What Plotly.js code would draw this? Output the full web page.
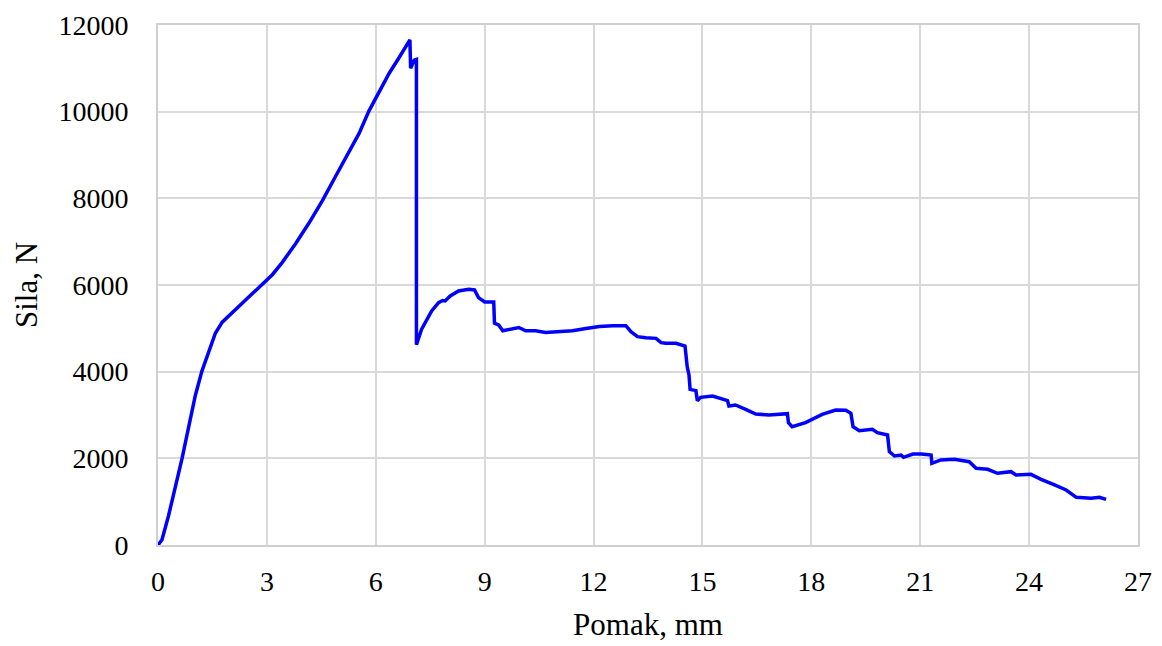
<!DOCTYPE html>
<html>
<head>
<meta charset="utf-8">
<script src="https://cdn.plot.ly/plotly-3.0.1.min.js"></script>
<style>html,body{margin:0;padding:0;background:#fff;}#chart{width:1162px;height:646px;}</style>
</head>
<body>
<div id="chart"></div>
<script>
// Displacement (mm)
const pomak = [0, 0.11, 0.29, 0.48, 0.66, 0.85, 1.03, 1.21, 1.40, 1.58, 1.77, 1.95, 2.32, 2.59, 2.87, 3.15, 3.42, 3.79, 4.16, 4.53, 4.89, 5.26, 5.54, 5.81, 6.09, 6.37, 6.64, 6.92, 6.94, 6.96, 7.06, 7.12, 7.12,
  7.26, 7.54, 7.73, 7.84, 7.91, 8.05, 8.28, 8.56, 8.72, 8.83, 9.0, 9.25, 9.27, 9.39, 9.50, 9.76, 9.94, 10.13, 10.40, 10.68, 11.05, 11.42, 11.79, 12.16, 12.53, 12.89,
  13.03, 13.21, 13.44, 13.72, 13.86, 13.99, 14.27, 14.52, 14.58, 14.63, 14.66, 14.82, 14.86, 14.95, 15.28, 15.46, 15.69, 15.73, 15.91, 16.19, 16.47, 16.83, 17.34,
  17.37, 17.47, 17.84, 18.03, 18.30, 18.67, 18.95, 19.09, 19.15, 19.32, 19.68, 19.82, 20.10, 20.15, 20.29, 20.47, 20.54, 20.80, 21.03, 21.30, 21.32, 21.57, 21.94,
  22.35, 22.54, 22.86, 23.13, 23.50, 23.64, 24.05, 24.33, 24.70, 25.02, 25.30, 25.71, 25.94, 26.12];
// Force (N)
const sila = [0, 120, 675, 1311, 1987, 2742, 3457, 4013, 4490, 4887, 5142, 5285, 5563, 5801, 6000, 6238, 6517, 6954, 7430, 7947, 8503, 9060, 9497, 10013, 10450, 10887, 11245, 11642, 11658, 11000, 11190, 11205, 4620,
  4975, 5400, 5594, 5642, 5632, 5747, 5862, 5900, 5885, 5709, 5609, 5609, 5119, 5073, 4943, 4981, 5019, 4943, 4943, 4904, 4920, 4943, 4996, 5042, 5057, 5060,
  4923, 4808, 4785, 4769, 4669, 4654, 4654, 4592, 4115, 3923, 3592, 3562, 3331, 3408, 3438, 3385, 3331, 3208, 3231, 3131, 3023, 3000, 3030,
  2823, 2731, 2823, 2900, 3015, 3115, 3110, 3038, 2731, 2638, 2669, 2592, 2538, 2154, 2054, 2077, 2023, 2100, 2100, 2077, 1885, 1962, 1977,
  1923, 1769, 1746, 1654, 1692, 1615, 1631, 1515, 1385, 1269, 1100, 1077, 1100, 1054];

const xTicks = [0, 3, 6, 9, 12, 15, 18, 21, 24, 27];
const yTicks = [0, 2000, 4000, 6000, 8000, 10000, 12000];

const fontFam = '"Liberation Serif", "Times New Roman", serif';

Plotly.newPlot('chart', [{
  x: pomak, y: sila, type: 'scatter', mode: 'lines',
  line: {color: '#0000ff', width: 3.5}, hoverinfo: 'skip'
}], {
  width: 1162, height: 646,
  margin: {l: 158, r: 24, t: 25, b: 101},
  paper_bgcolor: '#ffffff', plot_bgcolor: '#ffffff',
  showlegend: false,
  font: {family: fontFam, color: '#000000', size: 28},
  xaxis: {
    range: [0, 27], tickvals: xTicks, ticktext: xTicks.map(String),
    showgrid: true, gridcolor: '#d9d9d9', gridwidth: 2,
    showline: true, linecolor: '#d0d0d0', linewidth: 2, mirror: true,
    zeroline: false, ticks: '', ticklabelstandoff: 10,
    tickfont: {family: fontFam, size: 28, color: '#000'},
    title: {text: 'Pomak, mm', font: {family: fontFam, size: 31, color: '#000'}, standoff: 18},
    automargin: false
  },
  yaxis: {
    range: [0, 12000], tickvals: yTicks, ticktext: yTicks.map(String),
    showgrid: true, gridcolor: '#d9d9d9', gridwidth: 2,
    showline: true, linecolor: '#d0d0d0', linewidth: 2, mirror: true,
    zeroline: false, ticks: '', ticklabelstandoff: 22,
    tickfont: {family: fontFam, size: 28, color: '#000'},
    title: {text: 'Sila, N', font: {family: fontFam, size: 31, color: '#000'}, standoff: 12},
    automargin: false
  }
}, {staticPlot: true, displayModeBar: false});
</script>
</body>
</html>
